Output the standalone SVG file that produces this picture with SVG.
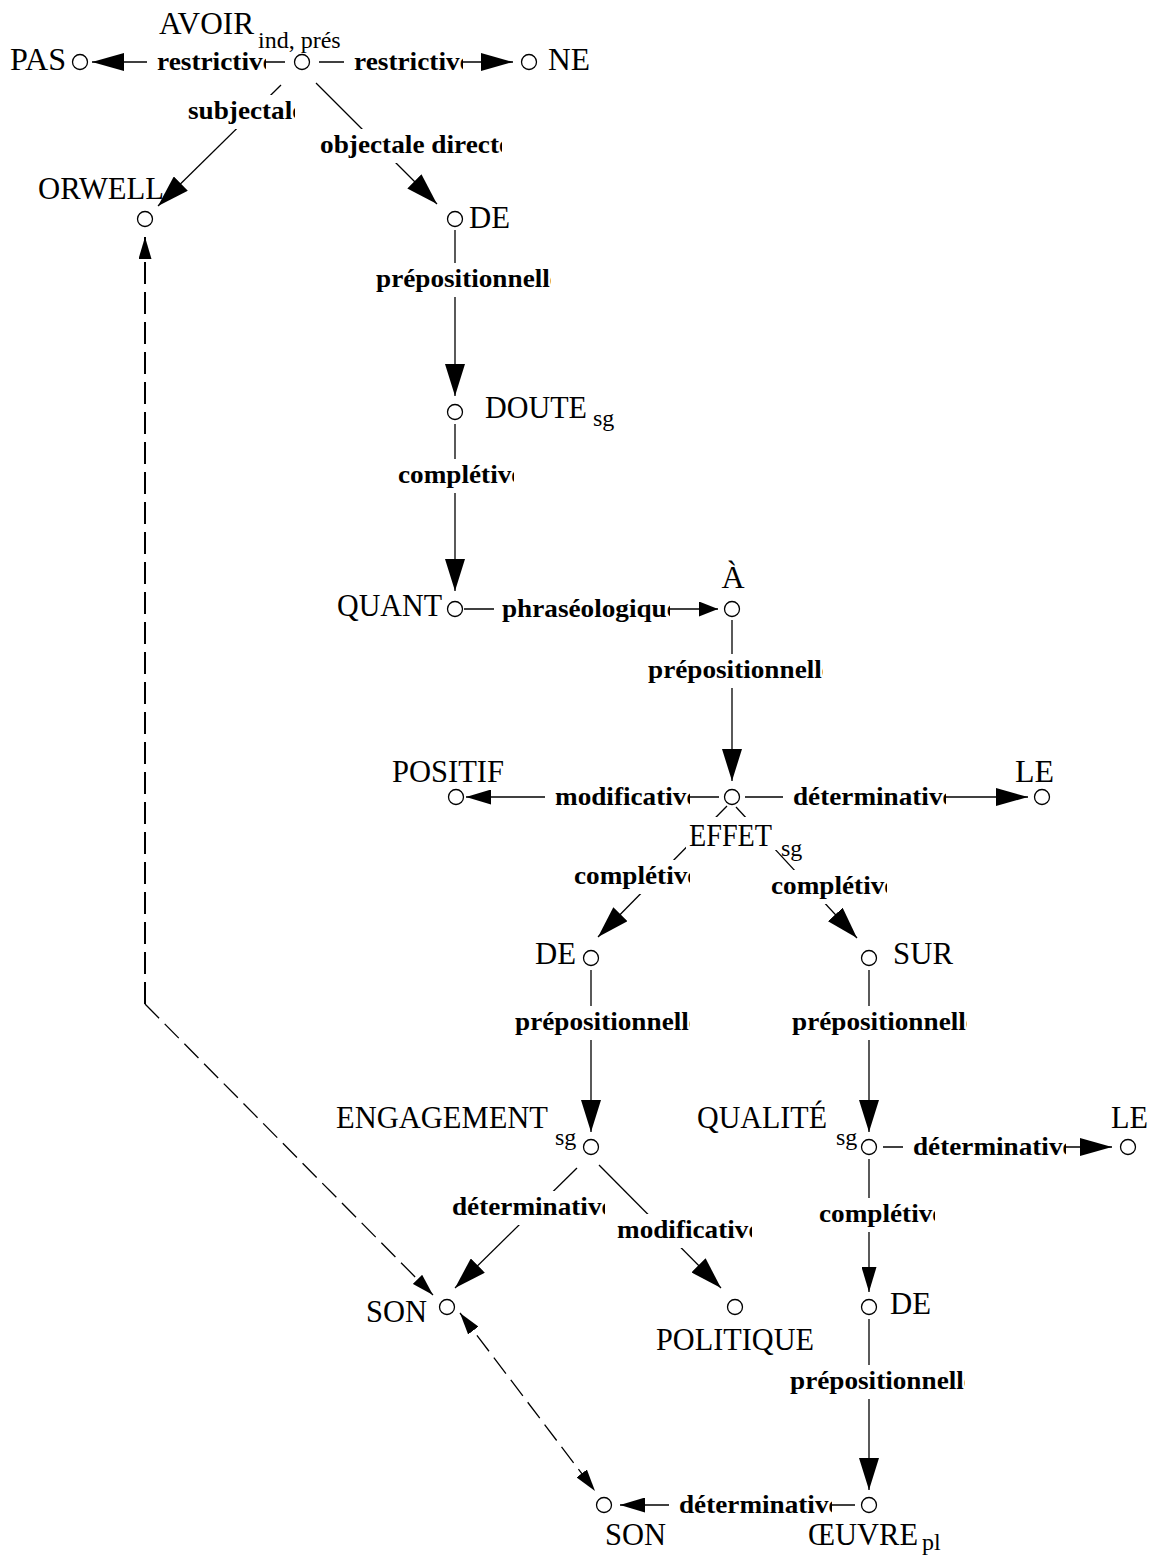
<svg xmlns="http://www.w3.org/2000/svg" width="1150" height="1557" viewBox="0 0 1150 1557">
<defs>
<style>
.n{fill:#fff;stroke:#000;stroke-width:1.3}
.t{font-family:"Liberation Serif","Times New Roman",serif;font-size:32px;fill:#000}
.s{font-family:"Liberation Serif","Times New Roman",serif;font-size:24px;fill:#000}
.e{stroke:#000;stroke-width:1.3;fill:none}
.d{stroke:#000;stroke-width:1.3;fill:none;stroke-dasharray:20 8}
.dv{stroke:#000;stroke-width:2;fill:none;stroke-dasharray:22 8}
.l{font-family:"Liberation Serif","Times New Roman",serif;font-size:25px;font-weight:bold;fill:#000}
.bg{fill:#fff}
</style>
<marker id="aL" markerUnits="userSpaceOnUse" markerWidth="32" markerHeight="20" refX="32" refY="10" orient="auto"><path d="M0,0L32,10L0,20z"/></marker>
<marker id="aH" markerUnits="userSpaceOnUse" markerWidth="32" markerHeight="18" refX="32" refY="9" orient="auto"><path d="M0,0L32,9L0,18z"/></marker>
<marker id="aM" markerUnits="userSpaceOnUse" markerWidth="25" markerHeight="15" refX="25" refY="7.5" orient="auto"><path d="M0,0L25,7.5L0,15z"/></marker>
<marker id="aS" markerUnits="userSpaceOnUse" markerWidth="19" markerHeight="15" refX="19" refY="7.5" orient="auto"><path d="M0,0L19,7.5L0,15z"/></marker>
<marker id="aD" markerUnits="userSpaceOnUse" markerWidth="22" markerHeight="13" refX="22" refY="6.5" orient="auto-start-reverse"><path d="M0,0L22,6.5L0,13z"/></marker>
</defs>
<rect width="1150" height="1557" fill="#fff"/>

<g id="connectors">
  <g id="e-avoir-pas"><line class="e" x1="285" y1="62" x2="92" y2="62" marker-end="url(#aH)"/>
    <svg x="147" y="45" width="119" height="35" viewBox="147 45 119 35"><rect class="bg" x="147" y="45" width="119" height="35"/><text class="l" x="157" y="70" textLength="117.8" lengthAdjust="spacingAndGlyphs">restrictive</text></svg></g>
  <g id="e-avoir-ne"><line class="e" x1="319" y1="62" x2="513" y2="62" marker-end="url(#aH)"/>
    <svg x="344" y="45" width="119" height="35" viewBox="344 45 119 35"><rect class="bg" x="344" y="45" width="119" height="35"/><text class="l" x="354" y="70" textLength="117.8" lengthAdjust="spacingAndGlyphs">restrictive</text></svg></g>
  <g id="e-avoir-orwell"><line class="e" x1="281" y1="85" x2="158" y2="206" marker-end="url(#aL)"/>
    <svg x="180" y="95" width="115" height="34" viewBox="180 95 115 34"><rect class="bg" x="180" y="95" width="115" height="34"/><text class="l" x="188" y="119" textLength="116.3" lengthAdjust="spacingAndGlyphs">subjectale</text></svg></g>
  <g id="e-avoir-de1"><line class="e" x1="316" y1="83" x2="437" y2="204" marker-end="url(#aL)"/>
    <svg x="312" y="129" width="190" height="34" viewBox="312 129 190 34"><rect class="bg" x="312" y="129" width="190" height="34"/><text class="l" x="320" y="153" textLength="191.1" lengthAdjust="spacingAndGlyphs">objectale directe</text></svg></g>
  <g id="e-de1-doute"><line class="e" x1="455" y1="230" x2="455" y2="396" marker-end="url(#aL)"/>
    <svg x="368" y="263" width="183" height="34" viewBox="368 263 183 34"><rect class="bg" x="368" y="263" width="183" height="34"/><text class="l" x="376" y="287" textLength="185.9" lengthAdjust="spacingAndGlyphs">prépositionnelle</text></svg></g>
  <g id="e-doute-quant"><line class="e" x1="455" y1="424" x2="455" y2="591" marker-end="url(#aL)"/>
    <svg x="390" y="459" width="124" height="34" viewBox="390 459 124 34"><rect class="bg" x="390" y="459" width="124" height="34"/><text class="l" x="398" y="483" textLength="125.4" lengthAdjust="spacingAndGlyphs">complétive</text></svg></g>
  <g id="e-quant-a"><line class="e" x1="464" y1="609" x2="718" y2="609" marker-end="url(#aS)"/>
    <svg x="494" y="592" width="176" height="35" viewBox="494 592 176 35"><rect class="bg" x="494" y="592" width="176" height="35"/><text class="l" x="502" y="617" textLength="176.8" lengthAdjust="spacingAndGlyphs">phraséologique</text></svg></g>
  <g id="e-a-effet"><line class="e" x1="732" y1="620" x2="732" y2="781" marker-end="url(#aL)"/>
    <svg x="640" y="654" width="183" height="34" viewBox="640 654 183 34"><rect class="bg" x="640" y="654" width="183" height="34"/><text class="l" x="648" y="678" textLength="185.9" lengthAdjust="spacingAndGlyphs">prépositionnelle</text></svg></g>
  <g id="e-effet-positif"><line class="e" x1="719" y1="797" x2="466" y2="797" marker-end="url(#aM)"/>
    <svg x="545" y="780" width="145" height="35" viewBox="545 780 145 35"><rect class="bg" x="545" y="780" width="145" height="35"/><text class="l" x="555" y="805" textLength="143.5" lengthAdjust="spacingAndGlyphs">modificative</text></svg></g>
  <g id="e-effet-le1"><line class="e" x1="745" y1="797" x2="1028" y2="797" marker-end="url(#aH)"/>
    <svg x="783" y="780" width="163" height="35" viewBox="783 780 163 35"><rect class="bg" x="783" y="780" width="163" height="35"/><text class="l" x="793" y="805" textLength="161.6" lengthAdjust="spacingAndGlyphs">déterminative</text></svg></g>
  <g id="e-effet-de2"><line class="e" x1="727" y1="806" x2="598" y2="937" marker-end="url(#aL)"/>
    <svg x="566" y="860" width="124" height="34" viewBox="566 860 124 34"><rect class="bg" x="566" y="860" width="124" height="34"/><text class="l" x="574" y="884" textLength="125.4" lengthAdjust="spacingAndGlyphs">complétive</text></svg></g>
  <g id="e-effet-sur"><line class="e" x1="736" y1="807" x2="857" y2="938" marker-end="url(#aL)"/>
    <svg x="763" y="870" width="124" height="34" viewBox="763 870 124 34"><rect class="bg" x="763" y="870" width="124" height="34"/><text class="l" x="771" y="894" textLength="125.4" lengthAdjust="spacingAndGlyphs">complétive</text></svg></g>
  <g id="e-de2-engagement"><line class="e" x1="591" y1="970" x2="591" y2="1132" marker-end="url(#aL)"/>
    <svg x="507" y="1006" width="183" height="34" viewBox="507 1006 183 34"><rect class="bg" x="507" y="1006" width="183" height="34"/><text class="l" x="515" y="1030" textLength="185.9" lengthAdjust="spacingAndGlyphs">prépositionnelle</text></svg></g>
  <g id="e-sur-qualite"><line class="e" x1="869" y1="970" x2="869" y2="1132" marker-end="url(#aL)"/>
    <svg x="784" y="1006" width="183" height="34" viewBox="784 1006 183 34"><rect class="bg" x="784" y="1006" width="183" height="34"/><text class="l" x="792" y="1030" textLength="185.9" lengthAdjust="spacingAndGlyphs">prépositionnelle</text></svg></g>
  <g id="e-qualite-le2"><line class="e" x1="883" y1="1147" x2="1112" y2="1147" marker-end="url(#aH)"/>
    <svg x="903" y="1130" width="163" height="35" viewBox="903 1130 163 35"><rect class="bg" x="903" y="1130" width="163" height="35"/><text class="l" x="913" y="1155" textLength="161.6" lengthAdjust="spacingAndGlyphs">déterminative</text></svg></g>
  <g id="e-qualite-de3"><line class="e" x1="869" y1="1159" x2="869" y2="1292" marker-end="url(#aM)"/>
    <svg x="811" y="1198" width="124" height="34" viewBox="811 1198 124 34"><rect class="bg" x="811" y="1198" width="124" height="34"/><text class="l" x="819" y="1222" textLength="125.4" lengthAdjust="spacingAndGlyphs">complétive</text></svg></g>
  <g id="e-engagement-son1"><line class="e" x1="577" y1="1168" x2="455" y2="1288" marker-end="url(#aL)"/>
    <svg x="444" y="1191" width="161" height="34" viewBox="444 1191 161 34"><rect class="bg" x="444" y="1191" width="161" height="34"/><text class="l" x="452" y="1215" textLength="161.6" lengthAdjust="spacingAndGlyphs">déterminative</text></svg></g>
  <g id="e-engagement-politique"><line class="e" x1="599" y1="1165" x2="721" y2="1288" marker-end="url(#aL)"/>
    <svg x="609" y="1214" width="143" height="34" viewBox="609 1214 143 34"><rect class="bg" x="609" y="1214" width="143" height="34"/><text class="l" x="617" y="1238" textLength="143.5" lengthAdjust="spacingAndGlyphs">modificative</text></svg></g>
  <g id="e-de3-oeuvre"><line class="e" x1="869" y1="1319" x2="869" y2="1490" marker-end="url(#aL)"/>
    <svg x="782" y="1365" width="183" height="34" viewBox="782 1365 183 34"><rect class="bg" x="782" y="1365" width="183" height="34"/><text class="l" x="790" y="1389" textLength="185.9" lengthAdjust="spacingAndGlyphs">prépositionnelle</text></svg></g>
  <g id="e-oeuvre-son2"><line class="e" x1="855" y1="1505" x2="620" y2="1505" marker-end="url(#aM)"/>
    <svg x="669" y="1488" width="163" height="35" viewBox="669 1488 163 35"><rect class="bg" x="669" y="1488" width="163" height="35"/><text class="l" x="679" y="1513" textLength="161.6" lengthAdjust="spacingAndGlyphs">déterminative</text></svg></g>
  <g id="e-orwell-son1"><path class="dv" d="M145,1004 L145,237" marker-end="url(#aD)"/><path class="d" d="M145,1004 L433,1295" marker-end="url(#aD)"/></g>
  <g id="e-son1-son2"><path class="d" d="M460,1313 L595,1491" marker-start="url(#aD)" marker-end="url(#aD)"/></g>
</g>

<g id="nodes">
  <g id="n-avoir"><circle class="n" cx="302" cy="62" r="7.5"/><text class="t" x="159" y="34" textLength="95" lengthAdjust="spacingAndGlyphs">AVOIR</text><text class="s" x="258" y="48">ind, prés</text></g>
  <g id="n-pas"><circle class="n" cx="80" cy="62" r="7.5"/><text class="t" x="10" y="70" textLength="56" lengthAdjust="spacingAndGlyphs">PAS</text></g>
  <g id="n-ne"><circle class="n" cx="529" cy="62" r="7.5"/><text class="t" x="548" y="70" textLength="42" lengthAdjust="spacingAndGlyphs">NE</text></g>
  <g id="n-orwell"><circle class="n" cx="145" cy="219" r="7.5"/><text class="t" x="38" y="199" textLength="126" lengthAdjust="spacingAndGlyphs">ORWELL</text></g>
  <g id="n-de1"><circle class="n" cx="455" cy="219" r="7.5"/><text class="t" x="469" y="228" textLength="41" lengthAdjust="spacingAndGlyphs">DE</text></g>
  <g id="n-doute"><circle class="n" cx="455" cy="412" r="7.5"/><text class="t" x="485" y="418" textLength="102" lengthAdjust="spacingAndGlyphs">DOUTE</text><text class="s" x="593" y="426">sg</text></g>
  <g id="n-quant"><circle class="n" cx="455" cy="609" r="7.5"/><text class="t" x="337" y="616" textLength="105" lengthAdjust="spacingAndGlyphs">QUANT</text></g>
  <g id="n-a"><circle class="n" cx="732" cy="609" r="7.5"/><text class="t" x="733" y="588" text-anchor="middle">À</text></g>
  <g id="n-effet"><circle class="n" cx="732" cy="797" r="7.5"/><rect class="bg" x="686" y="817" width="126" height="33"/><text class="t" x="689" y="846" textLength="83" lengthAdjust="spacingAndGlyphs">EFFET</text><text class="s" x="781" y="856">sg</text></g>
  <g id="n-positif"><circle class="n" cx="456" cy="797" r="7.5"/><text class="t" x="392" y="782" textLength="112" lengthAdjust="spacingAndGlyphs">POSITIF</text></g>
  <g id="n-le1"><circle class="n" cx="1042" cy="797" r="7.5"/><text class="t" x="1015" y="782" textLength="39" lengthAdjust="spacingAndGlyphs">LE</text></g>
  <g id="n-de2"><circle class="n" cx="591" cy="958" r="7.5"/><text class="t" x="535" y="964" textLength="41" lengthAdjust="spacingAndGlyphs">DE</text></g>
  <g id="n-sur"><circle class="n" cx="869" cy="958" r="7.5"/><text class="t" x="893" y="964" textLength="60" lengthAdjust="spacingAndGlyphs">SUR</text></g>
  <g id="n-engagement"><circle class="n" cx="591" cy="1147" r="7.5"/><text class="t" x="336" y="1128" textLength="212" lengthAdjust="spacingAndGlyphs">ENGAGEMENT</text><text class="s" x="555" y="1145">sg</text></g>
  <g id="n-qualite"><circle class="n" cx="869" cy="1147" r="7.5"/><text class="t" x="697" y="1128" textLength="130" lengthAdjust="spacingAndGlyphs">QUALITÉ</text><text class="s" x="836" y="1145">sg</text></g>
  <g id="n-le2"><circle class="n" cx="1128" cy="1147" r="7.5"/><text class="t" x="1111" y="1128" textLength="37" lengthAdjust="spacingAndGlyphs">LE</text></g>
  <g id="n-son1"><circle class="n" cx="447" cy="1307" r="7.5"/><text class="t" x="366" y="1322" textLength="61" lengthAdjust="spacingAndGlyphs">SON</text></g>
  <g id="n-politique"><circle class="n" cx="735" cy="1307" r="7.5"/><text class="t" x="656" y="1350" textLength="158" lengthAdjust="spacingAndGlyphs">POLITIQUE</text></g>
  <g id="n-de3"><circle class="n" cx="869" cy="1307" r="7.5"/><text class="t" x="890" y="1314" textLength="41" lengthAdjust="spacingAndGlyphs">DE</text></g>
  <g id="n-son2"><circle class="n" cx="604" cy="1505" r="7.5"/><text class="t" x="605" y="1545" textLength="61" lengthAdjust="spacingAndGlyphs">SON</text></g>
  <g id="n-oeuvre"><circle class="n" cx="869" cy="1505" r="7.5"/><text class="t" x="808" y="1545" textLength="110" lengthAdjust="spacingAndGlyphs">ŒUVRE</text><text class="s" x="922" y="1550">pl</text></g>
</g>
</svg>
